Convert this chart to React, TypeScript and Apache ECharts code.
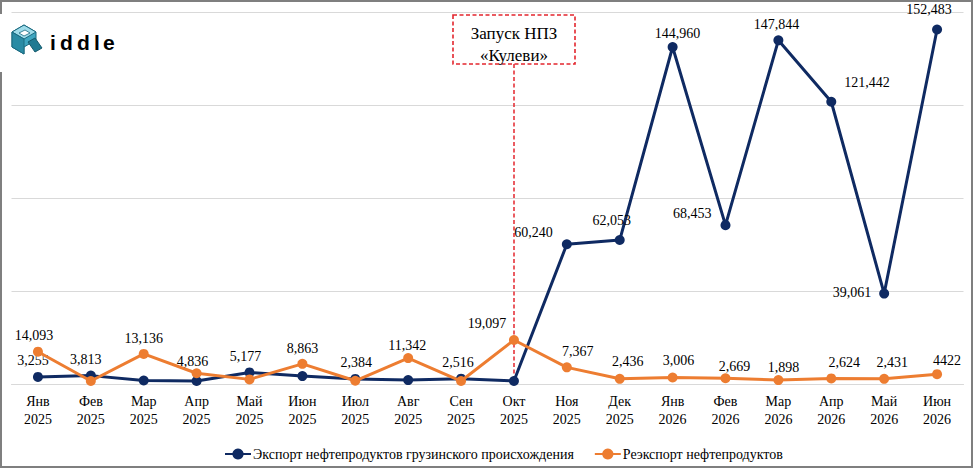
import React, { useEffect, useRef } from "react";
import * as echarts from "echarts";

const categories = [
  "Янв\n2025", "Фев\n2025", "Мар\n2025", "Апр\n2025", "Май\n2025", "Июн\n2025",
  "Июл\n2025", "Авг\n2025", "Сен\n2025", "Окт\n2025", "Ноя\n2025", "Дек\n2025",
  "Янв\n2026", "Фев\n2026", "Мар\n2026", "Апр\n2026", "Май\n2026", "Июн\n2026",
];

// Экспорт нефтепродуктов грузинского происхождения
const exportGeo = [
  3255, 3813, 1700, 1500, 5177, 3600, 2384, 1900, 2516, 1500,
  60240, 62053, 144960, 68453, 147844, 121442, 39061, 152483,
];
const exportLabeled = [
  true, true, false, false, true, false, true, false, true, false,
  true, true, true, true, true, true, true, true,
];

// Реэкспорт нефтепродуктов
const reexport = [
  14093, 1500, 13136, 4836, 2200, 8863, 1600, 11342, 1500, 19097,
  7367, 2436, 3006, 2669, 1898, 2624, 2431, 4422,
];
const reexportLabeled = [
  true, false, true, true, false, true, false, true, false, true,
  true, true, true, true, true, true, true, true,
];
const reexportPlain = [17];

const seriesNames = [
  "Экспорт нефтепродуктов грузинского происхождения",
  "Реэкспорт нефтепродуктов",
];

const yTicks = { min: 0, max: 160000, interval: 40000 };
const annotationCategory = 9;
const annotationLines = ["Запуск НПЗ", "«Кулеви»"];

// label placement (style only)
const exportLabelPlacement: Record<number, any> = {
  0: { position: "top", offset: [-5, 0] },
  1: { position: "top", offset: [-5, 0] },
  4: { position: "top", offset: [-4, 0] },
  6: { position: "top", offset: [1, 0] },
  8: { position: "top", offset: [-3, 0] },
  10: { position: "left", distance: 9, offset: [0, -12] },
  11: { position: "top", offset: [-8, -4] },
  12: { position: "top", offset: [5, 2] },
  13: { position: "left", distance: 9, offset: [0, -12] },
  14: { position: "top", offset: [-2, 0] },
  15: { position: "right", distance: 8, offset: [0, -19] },
  16: { position: "left", distance: 8, offset: [0, -1] },
  17: { position: "top", offset: [-8, -4] },
};
const reexportLabelPlacement: Record<number, any> = {
  0: { offset: [-4, 0] },
  2: { offset: [0, 1] },
  3: { offset: [-4, 4] },
  5: { offset: [0, 1] },
  7: { offset: [-1, 3] },
  9: { offset: [-27, -1] },
  10: { offset: [11, 0] },
  11: { offset: [8, -1] },
  12: { offset: [6, -1] },
  13: { offset: [9, 4] },
  14: { offset: [5, 3] },
  15: { offset: [13, 0] },
  16: { offset: [8, 0] },
  17: { offset: [10, 2] },
};

const NAVY = "#0f2a62";
const ORANGE = "#ed7d31";
const RED = "#e3262e";
const SERIF = "'Liberation Serif', 'Times New Roman', serif";

function withCommas(v: number): string {
  const s = String(Math.round(v));
  return s.replace(/\B(?=(\d{3})+(?!\d))/g, ",");
}

export default function App() {
  const ref = useRef<HTMLDivElement>(null);

  useEffect(() => {
    if (!ref.current) return;
    const chart = echarts.init(ref.current, undefined, { renderer: "svg" });

    const labelBase = {
      color: "#000",
      fontFamily: SERIF,
      fontSize: 14,
    };

    const exportData = exportGeo.map((v, i) => ({
      value: v,
      label: exportLabeled[i]
        ? { show: true, position: "top", distance: 4, ...labelBase, ...(exportLabelPlacement[i] || {}) }
        : { show: false },
    }));
    const reexportData = reexport.map((v, i) => ({
      value: v,
      label: reexportLabeled[i]
        ? { show: true, position: "top", distance: 4, ...labelBase, ...(reexportLabelPlacement[i] || {}) }
        : { show: false },
    }));

    const option: any = {
      animation: false,
      backgroundColor: "#fff",
      grid: { left: 11.5, right: 10.5, top: 12, bottom: 84.5, containLabel: false },
      legend: {
        left: 219,
        top: 442,
        itemWidth: 26,
        itemHeight: 14,
        itemGap: 20,
        textStyle: { fontFamily: SERIF, fontSize: 14, color: "#000", padding: [0, 0, 0, -3] },
        data: seriesNames,
      },
      xAxis: {
        type: "category",
        data: categories,
        boundaryGap: true,
        axisLine: { show: true, lineStyle: { color: "#d9d9d9", width: 1 } },
        axisTick: { show: false },
        axisLabel: {
          color: "#000",
          fontFamily: SERIF,
          fontSize: 14,
          lineHeight: 17.5,
          margin: 8.5,
          interval: 0,
        },
      },
      yAxis: {
        type: "value",
        min: yTicks.min,
        max: yTicks.max,
        interval: yTicks.interval,
        axisLabel: { show: false },
        axisLine: { show: false },
        axisTick: { show: false },
        splitLine: { lineStyle: { color: "#d9d9d9", width: 1 } },
      },
      series: [
        {
          name: seriesNames[0],
          type: "line",
          data: exportData,
          symbol: "circle",
          symbolSize: 10,
          lineStyle: { color: NAVY, width: 3 },
          itemStyle: { color: NAVY },
          label: {
            formatter: (p: any) => withCommas(p.value),
          },
          z: 3,
        },
        {
          name: seriesNames[1],
          type: "line",
          data: reexportData,
          symbol: "circle",
          symbolSize: 10,
          lineStyle: { color: ORANGE, width: 3 },
          itemStyle: { color: ORANGE },
          label: {
            formatter: (p: any) =>
              reexportPlain.includes(p.dataIndex) ? String(p.value) : withCommas(p.value),
          },
          z: 4,
        },
      ],
    };
    chart.setOption(option);

    // annotation positions derived from the axes
    const pt = chart.convertToPixel({ xAxisIndex: 0, yAxisIndex: 0 }, [
      annotationCategory,
      exportGeo[annotationCategory],
    ]) as number[];
    const ax = Math.round(pt[0]);
    const boxW = 122;
    const boxH = 49;
    const boxTop = 15;
    const boxLeft = ax - boxW / 2;

    const letters = ["i", "d", "d", "l", "e"];
    const letterX = [50, 60, 77, 94, 103];

    const graphic: any[] = [
      // outer frame
      {
        type: "rect",
        shape: { x: 1, y: 1, width: 971, height: 466 },
        style: { fill: "none", stroke: "#7f7f7f", lineWidth: 2 },
        silent: true,
        z: 0,
      },
      // logo backdrop
      {
        type: "rect",
        shape: { x: 0, y: 14, width: 125, height: 58 },
        style: { fill: "#fff" },
        silent: true,
        z: 10,
      },
      // logo icon
      {
        type: "polygon",
        shape: { points: [[12, 32], [24, 25], [36, 32], [36, 40], [24, 47], [24, 54], [12, 47]] },
        style: { fill: "#3fa6c0", stroke: "#1b6a80", lineWidth: 1 },
        z: 11,
      },
      {
        type: "polygon",
        shape: { points: [[12, 32], [24, 25], [36, 32], [24, 39]] },
        style: { fill: "#9edbe9", stroke: "#1b6a80", lineWidth: 1 },
        z: 12,
      },
      {
        type: "polygon",
        shape: { points: [[19, 33], [25, 30], [30, 33], [24, 36]] },
        style: { fill: "#ffffff", stroke: "#1b6a80", lineWidth: 0.8 },
        z: 13,
      },
      {
        type: "polygon",
        shape: { points: [[12, 32], [24, 39], [24, 54], [12, 47]] },
        style: { fill: "#2a8ba4", stroke: "#1b6a80", lineWidth: 1 },
        z: 12,
      },
      {
        type: "polygon",
        shape: { points: [[28, 42], [35, 38], [42, 48], [35, 52]] },
        style: { fill: "#1f7a92", stroke: "#155a6c", lineWidth: 1 },
        z: 13,
      },
      ...letters.map((ch, i) => ({
        type: "text",
        x: letterX[i],
        y: 42,
        style: {
          text: ch,
          fill: "#000",
          font: "bold 21px 'Liberation Sans', Arial, sans-serif",
          verticalAlign: "middle",
          align: "left",
        },
        z: 12,
      })),
      // annotation box
      {
        type: "rect",
        shape: { x: boxLeft, y: boxTop, width: boxW, height: boxH },
        style: { fill: "#fff", stroke: RED, lineWidth: 1.6, lineDash: [4, 2.5] },
        z: 20,
      },
      {
        type: "text",
        x: ax,
        y: boxTop + 18,
        style: {
          text: annotationLines[0],
          fill: "#000",
          font: `17px ${SERIF}`,
          align: "center",
          verticalAlign: "middle",
        },
        z: 21,
      },
      {
        type: "text",
        x: ax,
        y: boxTop + 40,
        style: {
          text: annotationLines[1],
          fill: "#000",
          font: `17px ${SERIF}`,
          align: "center",
          verticalAlign: "middle",
        },
        z: 21,
      },
      {
        type: "line",
        shape: { x1: ax, y1: boxTop + boxH, x2: ax, y2: pt[1] },
        style: { stroke: RED, lineWidth: 1.5, lineDash: [4, 2.5] },
        z: 2,
      },
    ];

    chart.setOption({ graphic });

    return () => {
      chart.dispose();
    };
  }, []);

  return (
    <div
      ref={ref}
      style={{ position: "fixed", left: 0, top: 0, width: 974, height: 469, background: "#fff" }}
    />
  );
}
